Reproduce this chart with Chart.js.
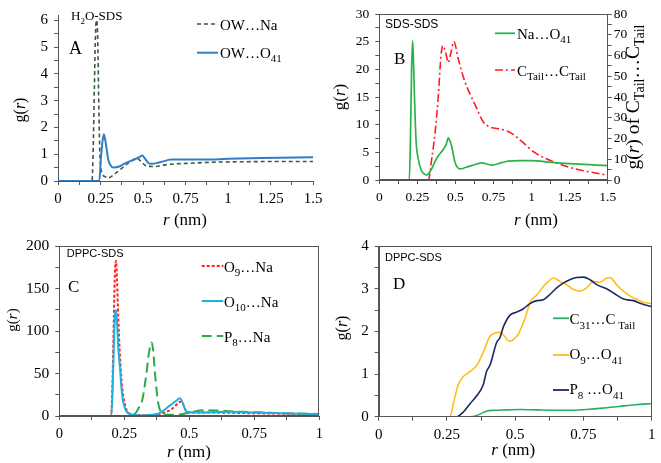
<!DOCTYPE html>
<html><head><meta charset="utf-8">
<script src="https://cdn.jsdelivr.net/npm/chart.js@4.4.0/dist/chart.umd.min.js"></script>
<style>
html,body{margin:0;padding:0;background:#fff;width:661px;height:463px;overflow:hidden}
canvas{position:absolute}
</style></head><body>
<canvas id="cA" width="330" height="231" style="left:0;top:0;width:330px;height:231px"></canvas>
<canvas id="cB" width="331" height="231" style="left:330px;top:0;width:331px;height:231px"></canvas>
<canvas id="cC" width="330" height="232" style="left:0;top:231px;width:330px;height:232px"></canvas>
<canvas id="cD" width="331" height="232" style="left:330px;top:231px;width:331px;height:232px"></canvas>
<script>
// ---------------- DATA ----------------
// Panel A (H2O-SDS)
const A_r_OWNa  = [0, 0.2, 0.207, 0.214, 0.221, 0.228, 0.234, 0.24, 0.247, 0.26, 0.28, 0.296, 0.33, 0.375, 0.42, 0.463, 0.49, 0.52, 0.57, 0.65, 0.77, 0.9, 1.1, 1.3, 1.5];
const A_g_OWNa  = [0, 0, 1.2, 3.5, 5.6, 6.0, 5.2, 2.8, 0.9, 0.3, 0.15, 0.12, 0.25, 0.47, 0.7, 0.85, 0.72, 0.56, 0.54, 0.62, 0.66, 0.7, 0.72, 0.73, 0.73];
const A_r_OWO41 = [0, 0.243, 0.252, 0.262, 0.27, 0.28, 0.296, 0.31, 0.325, 0.36, 0.394, 0.43, 0.453, 0.48, 0.496, 0.51, 0.53, 0.55, 0.6, 0.668, 0.75, 0.865, 1.0, 1.2, 1.5];
const A_g_OWO41 = [0, 0, 0.8, 1.5, 1.75, 1.45, 0.79, 0.58, 0.5, 0.54, 0.66, 0.75, 0.81, 0.9, 0.95, 0.85, 0.68, 0.64, 0.7, 0.8, 0.8, 0.8, 0.83, 0.86, 0.89];
const A_xLabels = [0, 0.25, 0.5, 0.75, 1, 1.25, 1.5];
const A_yLabels = [0, 1, 2, 3, 4, 5, 6];

// Panel B (SDS-SDS)
const B_r_NaO41 = [0, 0.197, 0.205, 0.212, 0.219, 0.225, 0.23, 0.241, 0.256, 0.275, 0.295, 0.31, 0.325, 0.344, 0.365, 0.388, 0.42, 0.44, 0.453, 0.465, 0.475, 0.497, 0.53, 0.57, 0.607, 0.672, 0.738, 0.8, 0.847, 0.92, 1.0, 1.13, 1.285, 1.5];
const B_g_NaO41 = [0, 0, 8, 20, 25.2, 21, 16, 7.3, 3.8, 1.8, 1.1, 0.9, 1.2, 2.0, 3.3, 4.4, 5.5, 6.5, 7.6, 7.0, 6.1, 3.2, 2.0, 2.3, 2.6, 3.1, 2.7, 3.1, 3.4, 3.5, 3.5, 3.2, 2.9, 2.6];
const B_r_Tail  = [0, 0.322, 0.344, 0.366, 0.388, 0.405, 0.418, 0.436, 0.453, 0.47, 0.49, 0.519, 0.562, 0.628, 0.683, 0.726, 0.804, 0.869, 0.935, 1.022, 1.154, 1.285, 1.5];
const B_g_Tail  = [0, 0, 10.1, 22.5, 41.1, 59.8, 64.8, 61.4, 56.7, 61.4, 66.8, 58.2, 47.4, 36.5, 28, 25.6, 24.4, 22.5, 18.6, 13.2, 8.5, 5.4, 2.3];
const B_xLabels = [0, 0.25, 0.5, 0.75, 1, 1.25, 1.5];
const B_yLabels = [0, 5, 10, 15, 20, 25, 30];
const B_y2Labels = [0, 10, 20, 30, 40, 50, 60, 70, 80];

// Panel C (DPPC-SDS)
const C_r_O9  = [0, 0.199, 0.205, 0.21, 0.214, 0.218, 0.222, 0.227, 0.233, 0.24, 0.246, 0.259, 0.28, 0.32, 0.38, 0.42, 0.44, 0.46, 0.47, 0.49, 0.52, 0.6, 0.7, 0.8, 0.9, 1.0];
const C_g_O9  = [0, 0, 45, 120, 170, 183, 160, 115, 73, 40, 24, 7, 2, 1, 2, 6, 10, 16, 17, 5, 4, 4, 3.5, 3, 2.5, 2];
const C_r_O10 = [0, 0.2, 0.205, 0.21, 0.214, 0.218, 0.222, 0.227, 0.233, 0.24, 0.246, 0.259, 0.28, 0.32, 0.36, 0.39, 0.426, 0.45, 0.464, 0.49, 0.52, 0.6, 0.65, 0.75, 0.9, 1.0];
const C_g_O10 = [0, 0, 30, 85, 118, 125, 110, 80, 58, 30, 16, 5, 1.5, 0.5, 1.5, 4, 12.5, 18, 21, 5, 4, 4.5, 5, 4, 3, 2];
const C_r_P8  = [0, 0.277, 0.29, 0.304, 0.32, 0.335, 0.345, 0.355, 0.362, 0.367, 0.38, 0.393, 0.41, 0.44, 0.47, 0.5, 0.554, 0.6, 0.7, 0.8, 0.9, 1.0];
const C_g_P8  = [0, 0, 2, 8.7, 20, 50, 75, 86.7, 75, 54, 16, 4, 1.5, 1.5, 2, 4, 6.8, 6.5, 5, 4, 3, 2.5];
const C_xLabels = [0, 0.25, 0.5, 0.75, 1];
const C_yLabels = [0, 50, 100, 150, 200];

// Panel D (DPPC-SDS)
const D_r_C31 = [0, 0.334, 0.36, 0.38, 0.395, 0.42, 0.47, 0.52, 0.58, 0.64, 0.7, 0.76, 0.82, 0.88, 0.94, 1.0];
const D_g_C31 = [0, 0, 0.03, 0.09, 0.13, 0.15, 0.16, 0.17, 0.16, 0.15, 0.15, 0.17, 0.2, 0.24, 0.28, 0.31];
const D_r_O9  = [0, 0.261, 0.275, 0.292, 0.31, 0.335, 0.36, 0.383, 0.408, 0.426, 0.444, 0.457, 0.469, 0.481, 0.495, 0.51, 0.524, 0.542, 0.554, 0.579, 0.603, 0.621, 0.64, 0.664, 0.689, 0.713, 0.737, 0.762, 0.786, 0.81, 0.835, 0.847, 0.872, 0.896, 0.92, 0.945, 0.97, 1.0];
const D_g_O9  = [0, 0, 0.35, 0.76, 0.94, 1.06, 1.21, 1.51, 1.89, 1.96, 1.98, 1.92, 1.81, 1.77, 1.82, 1.92, 2.11, 2.42, 2.68, 2.85, 3.05, 3.17, 3.25, 3.17, 3.09, 2.98, 2.94, 3.02, 3.17, 3.15, 3.25, 3.26, 3.09, 2.94, 2.83, 2.75, 2.68, 2.65];
const D_r_P8  = [0, 0.286, 0.31, 0.334, 0.359, 0.383, 0.395, 0.408, 0.432, 0.444, 0.457, 0.481, 0.505, 0.53, 0.554, 0.58, 0.603, 0.628, 0.652, 0.676, 0.7, 0.725, 0.75, 0.774, 0.8, 0.835, 0.872, 0.9, 0.933, 0.96, 1.0];
const D_g_P8  = [0, 0, 0.11, 0.3, 0.49, 0.75, 1.06, 1.21, 1.74, 1.85, 2.11, 2.38, 2.45, 2.53, 2.65, 2.72, 2.74, 2.87, 3.02, 3.13, 3.21, 3.26, 3.27, 3.21, 3.09, 3.0, 2.85, 2.75, 2.72, 2.65, 2.58];
const D_xLabels = [0, 0.25, 0.5, 0.75, 1];
const D_yLabels = [0, 1, 2, 3, 4];

// ---------------- HELPERS ----------------
const SERIF = '"Liberation Serif","Times New Roman",serif';
const SANS = '"Liberation Sans",Arial,sans-serif';
const AXIS = '#555';

function pts(rs, gs) { return rs.map((r, i) => ({x: r, y: gs[i]})); }
function lab(list) {
  return v => list.some(l => Math.abs(l - v) < 1e-6) ? String(parseFloat(Number(v).toFixed(4))) : '';
}
function fontOf(st, size, fam) {
  const s = st === 's' ? Math.round(size * 0.7) : size;
  return (st === 'i' ? 'italic ' : '') + s + 'px ' + (fam || SERIF);
}
function rich(ctx, x, y, segs, size, align, fam) {
  let w = 0;
  segs.forEach(([t, st]) => { ctx.font = fontOf(st, size, fam); w += ctx.measureText(t).width; });
  let cx = align === 'center' ? x - w / 2 : (align === 'right' ? x - w : x);
  ctx.textAlign = 'left'; ctx.textBaseline = 'alphabetic'; ctx.fillStyle = '#000';
  segs.forEach(([t, st]) => {
    ctx.font = fontOf(st, size, fam);
    ctx.fillText(t, cx, y + (st === 's' ? size * 0.28 : 0));
    cx += ctx.measureText(t).width;
  });
}
function richRot(ctx, cx, cy, segs, size) {
  ctx.save(); ctx.translate(cx, cy); ctx.rotate(-Math.PI / 2);
  rich(ctx, 0, size * 0.33, segs, size, 'center');
  ctx.restore();
}
function legendLine(ctx, x1, x2, y, color, dash, width) {
  ctx.save(); ctx.strokeStyle = color; ctx.lineWidth = width || 2; ctx.setLineDash(dash || []);
  ctx.beginPath(); ctx.moveTo(x1, y); ctx.lineTo(x2, y); ctx.stroke(); ctx.restore();
}
const GR = [['g(', 'n'], ['r', 'i'], [')', 'n']];
const RNM = [['r', 'i'], [' (nm)', 'n']];

function axisX(lbls, min, max, step, H, bottom, fsize) {
  return {
    type: 'linear', min: min, max: max,
    afterFit: s => { s.height = H - bottom; },
    ticks: {stepSize: step, autoSkip: false, maxRotation: 0, minRotation: 0, padding: 5, color: '#000',
            includeBounds: false, font: {family: SERIF, size: fsize}, callback: lab(lbls)},
    grid: {drawOnChartArea: false, drawTicks: true, tickLength: 4, color: AXIS},
    border: {display: true, color: AXIS, width: 1}
  };
}
function axisY(lbls, min, max, step, width, fsize, pos, pad) {
  return {
    type: 'linear', min: min, max: max, position: pos || 'left',
    afterFit: s => { s.width = width; },
    ticks: {stepSize: step, autoSkip: false, padding: pad == null ? 6 : pad, color: '#000',
            includeBounds: false, font: {family: SERIF, size: fsize}, callback: lab(lbls)},
    grid: {drawOnChartArea: false, drawTicks: true, tickLength: 4, color: AXIS},
    border: {display: true, color: AXIS, width: 1}
  };
}
function ds(data, color, dash, width, axis) {
  const d = {data: data, borderColor: color, backgroundColor: color, borderWidth: width || 2,
    borderDash: dash || [], pointRadius: 0, fill: false, cubicInterpolationMode: 'monotone'};
  if (axis) d.yAxisID = axis;
  return d;
}
function boxPlugin(on) {
  return {
    id: 'box',
    afterDraw(chart) {
      const ctx = chart.ctx, a = chart.chartArea;
      if (on) {
        ctx.save(); ctx.strokeStyle = AXIS; ctx.lineWidth = 1;
        const l = Math.round(a.left) + 0.5, t = Math.round(a.top) + 0.5, r = Math.round(a.right) - 0.5, b = Math.round(a.bottom) - 0.5;
        ctx.strokeRect(l, t, r - l, b - t); ctx.restore();
      }
    }
  };
}
function build(id, datasets, scales, pad, deco, box) {
  const el = document.getElementById(id);
  return new Chart(el, {
    type: 'line',
    data: {datasets: datasets},
    options: {
      responsive: false, animation: false, devicePixelRatio: 1,
      layout: {padding: pad},
      plugins: {legend: {display: false}, tooltip: {enabled: false}},
      scales: scales
    },
    plugins: [boxPlugin(box), {id: 'deco', afterDraw(chart) { chart.ctx.save(); deco(chart.ctx); chart.ctx.restore(); }}]
  });
}

// ---------------- PANEL A ----------------
build('cA', [
  ds(pts(A_r_OWO41, A_g_OWO41), '#2f7ec7', [], 2),
  ds(pts(A_r_OWNa, A_g_OWNa), '#3a5c3a', [4, 3], 1.6)
], {
  x: axisX(A_xLabels, 0, 1.5, 0.125, 231, 181, 15),
  y: axisY(A_yLabels, 0, 6.2, 0.5, 58, 15)
}, {top: 15, right: 17, left: 0, bottom: 0}, ctx => {
  rich(ctx, 71, 20, [['H', 'n'], ['2', 's'], ['O-SDS', 'n']], 13, 'left');
  rich(ctx, 69, 54, [['A', 'n']], 18, 'left');
  legendLine(ctx, 197, 218, 24, '#3a5c3a', [4, 3], 1.6);
  rich(ctx, 220, 29.5, [['OW…Na', 'n']], 15, 'left');
  legendLine(ctx, 197, 218, 52.7, '#2f7ec7', [], 2);
  rich(ctx, 220, 58, [['OW…O', 'n'], ['41', 's']], 15, 'left');
  rich(ctx, 185, 225, RNM, 17, 'center');
  richRot(ctx, 20, 110, GR, 16);
}, false);

// ---------------- PANEL B ----------------
build('cB', [
  ds(pts(B_r_NaO41, B_g_NaO41), '#2bb34b', [], 1.7),
  ds(pts(B_r_Tail, B_g_Tail), '#ff1e1e', [8, 3, 2, 3], 1.6, 'y2')
], {
  x: axisX(B_xLabels, 0, 1.5, 0.125, 231, 180, 13.5),
  y: axisY(B_yLabels, 0, 30, 2.5, 49.3, 13.5),
  y2: axisY(B_y2Labels, 0, 80, 5, 331 - 277.7, 13.5, 'right', 2)
}, {top: 8, right: 0, left: 0, bottom: 0}, ctx => {
  rich(ctx, 55, 27.5, [['SDS-SDS', 'n']], 12, 'left', SANS);
  rich(ctx, 64, 64, [['B', 'n']], 17, 'left');
  legendLine(ctx, 165, 185, 33.3, '#2bb34b', [], 1.8);
  rich(ctx, 187, 39, [['Na…O', 'n'], ['41', 's']], 15, 'left');
  legendLine(ctx, 165, 185, 70, '#ff1e1e', [8, 3, 2, 3], 1.6);
  rich(ctx, 187, 75.5, [['C', 'n'], ['Tail', 's'], ['…C', 'n'], ['Tail', 's']], 15, 'left');
  rich(ctx, 206, 225, RNM, 17, 'center');
  richRot(ctx, 9, 97, GR, 17);
  richRot(ctx, 302.5, 97, [['g(', 'n'], ['r', 'i'], [') of C', 'n'], ['Tail', 's'], ['…C', 'n'], ['Tail', 's']], 19.5);
}, true);

// ---------------- PANEL C ----------------
build('cC', [
  ds(pts(C_r_O10, C_g_O10), '#1eb0de', [], 2),
  ds(pts(C_r_O9, C_g_O9), '#ff2424', [3, 2], 2),
  ds(pts(C_r_P8, C_g_P8), '#2aab4a', [10, 5], 2)
], {
  x: axisX(C_xLabels, 0, 1, 0.125, 232, 185, 14.5),
  y: axisY(C_yLabels, 0, 200, 25, 59.3, 15.5)
}, {top: 9.7, right: 10.7, left: 0, bottom: 0}, ctx => {
  rich(ctx, 66.7, 25.7, [['DPPC-SDS', 'n']], 11, 'left', SANS);
  rich(ctx, 68, 60.7, [['C', 'n']], 17, 'left');
  legendLine(ctx, 201.7, 223.3, 35, '#ff2424', [3, 2], 2);
  rich(ctx, 224, 40.7, [['O', 'n'], ['9', 's'], ['…Na', 'n']], 15, 'left');
  legendLine(ctx, 201.7, 223.3, 70, '#1eb0de', [], 2);
  rich(ctx, 224, 76, [['O', 'n'], ['10', 's'], ['…Na', 'n']], 15, 'left');
  legendLine(ctx, 201.7, 223.3, 105, '#2aab4a', [10, 5], 2);
  rich(ctx, 224, 110.7, [['P', 'n'], ['8', 's'], ['…Na', 'n']], 15, 'left');
  rich(ctx, 189, 225.7, RNM, 17, 'center');
  richRot(ctx, 12.5, 89, GR, 15);
}, true);

// ---------------- PANEL D ----------------
build('cD', [
  ds(pts(D_r_P8, D_g_P8), '#1b2a5e', [], 1.6),
  ds(pts(D_r_O9, D_g_O9), '#ffbf1a', [], 1.6),
  ds(pts(D_r_C31, D_g_C31), '#23b062', [], 1.6)
], {
  x: axisX(D_xLabels, 0, 1, 0.125, 232, 185.7, 15),
  y: axisY(D_yLabels, 0, 4, 0.5, 48.7, 15)
}, {top: 9, right: 9.3, left: 0, bottom: 0}, ctx => {
  rich(ctx, 55, 29.7, [['DPPC-SDS', 'n']], 11, 'left', SANS);
  rich(ctx, 63, 58.3, [['D', 'n']], 17, 'left');
  legendLine(ctx, 223, 239, 87.3, '#23b062', [], 1.8);
  rich(ctx, 239.5, 93.3, [['C', 'n'], ['31', 's'], ['…C', 'n'], [' Tail', 's']], 15, 'left');
  legendLine(ctx, 223, 239, 124, '#ffbf1a', [], 1.8);
  rich(ctx, 239.5, 128.3, [['O', 'n'], ['9', 's'], ['…O', 'n'], ['41', 's']], 15, 'left');
  legendLine(ctx, 223, 239, 159, '#1b2a5e', [], 1.8);
  rich(ctx, 239.5, 163.3, [['P', 'n'], ['8', 's'], [' …O', 'n'], ['41', 's']], 15, 'left');
  rich(ctx, 183.3, 224, RNM, 17, 'center');
  richRot(ctx, 12, 97, GR, 16);
}, true);
</script>
</body></html>
